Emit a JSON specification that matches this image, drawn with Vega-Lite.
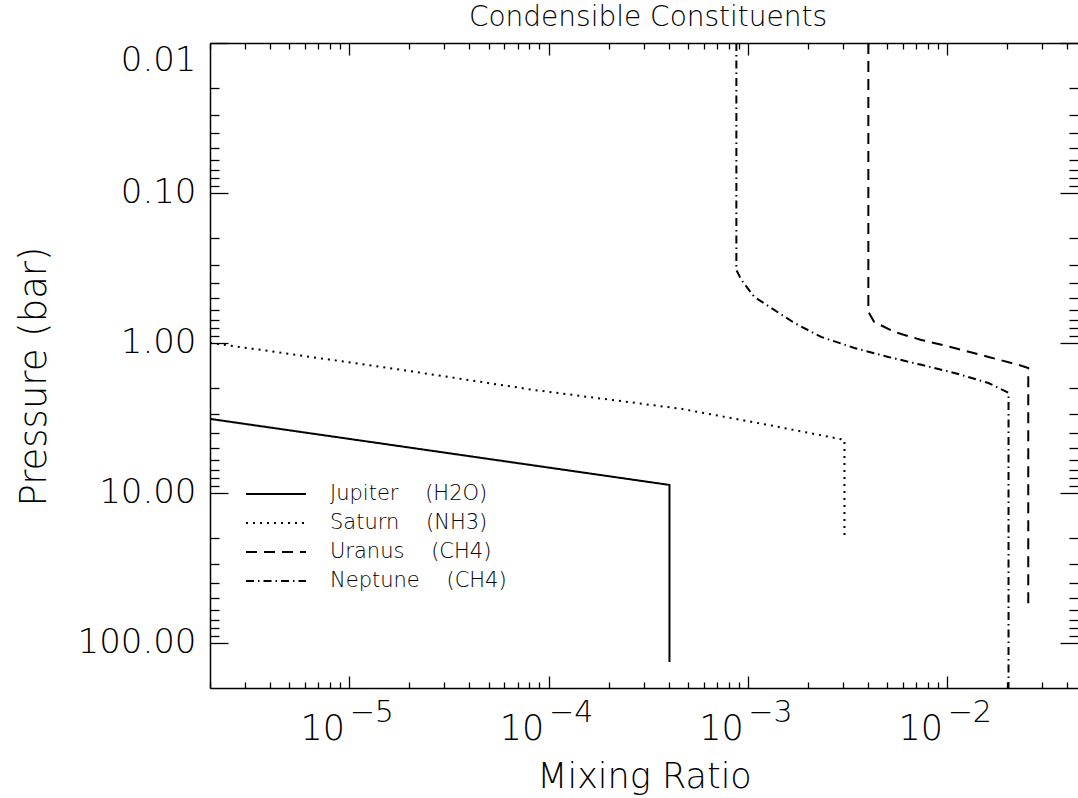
{
  "$schema": "https://vega.github.io/schema/vega-lite/v6.json",
  "width": 868,
  "height": 645,
  "autosize": {"type": "none"},
  "padding": {"left": 210, "top": 43, "right": 0, "bottom": 110},
  "background": "white",
  "title": {"text": "Condensible Constituents", "fontSize": 28, "fontWeight": 200, "font": "DejaVu Sans", "color": "black", "anchor": "middle", "dx": 4, "offset": 8},
  "config": {
    "font": "DejaVu Sans",
    "view": {"stroke": null},
    "axis": {"grid": false, "domainColor": "black", "domainWidth": 1.5, "tickColor": "black", "tickWidth": 1.3, "labelColor": "black", "titleColor": "black", "labelFont": "DejaVu Sans", "titleFont": "DejaVu Sans", "labelFontWeight": 200, "titleFontWeight": 200},
    "legend": {"labelFont": "DejaVu Sans", "labelFontWeight": 200, "labelColor": "black"}
  },
  "data": {"values": [
    {"s": "Jupiter (H2O)", "i": 0, "x": 2e-6, "p": 3.21},
    {"s": "Jupiter (H2O)", "i": 1, "x": 4.04e-4, "p": 8.85},
    {"s": "Jupiter (H2O)", "i": 2, "x": 4.04e-4, "p": 134},
    {"s": "Saturn (NH3)", "i": 0, "x": 2e-6, "p": 1.0},
    {"s": "Saturn (NH3)", "i": 1, "x": 3.92e-6, "p": 1.13},
    {"s": "Saturn (NH3)", "i": 2, "x": 1.82e-5, "p": 1.51},
    {"s": "Saturn (NH3)", "i": 3, "x": 8.47e-5, "p": 2.06},
    {"s": "Saturn (NH3)", "i": 4, "x": 4.63e-4, "p": 2.75},
    {"s": "Saturn (NH3)", "i": 5, "x": 1.26e-3, "p": 3.52},
    {"s": "Saturn (NH3)", "i": 6, "x": 3.05e-3, "p": 4.43},
    {"s": "Saturn (NH3)", "i": 7, "x": 3.05e-3, "p": 19.1},
    {"s": "Uranus (CH4)", "i": 0, "x": 4.02e-3, "p": 0.01},
    {"s": "Uranus (CH4)", "i": 1, "x": 4.02e-3, "p": 0.621},
    {"s": "Uranus (CH4)", "i": 2, "x": 4.30e-3, "p": 0.724},
    {"s": "Uranus (CH4)", "i": 3, "x": 5.43e-3, "p": 0.845},
    {"s": "Uranus (CH4)", "i": 4, "x": 7.41e-3, "p": 0.955},
    {"s": "Uranus (CH4)", "i": 5, "x": 1.087e-2, "p": 1.08},
    {"s": "Uranus (CH4)", "i": 6, "x": 1.61e-2, "p": 1.24},
    {"s": "Uranus (CH4)", "i": 7, "x": 2.28e-2, "p": 1.40},
    {"s": "Uranus (CH4)", "i": 8, "x": 2.55e-2, "p": 1.47},
    {"s": "Uranus (CH4)", "i": 9, "x": 2.55e-2, "p": 55.8},
    {"s": "Neptune (CH4)", "i": 0, "x": 8.75e-4, "p": 0.01},
    {"s": "Neptune (CH4)", "i": 1, "x": 8.75e-4, "p": 0.326},
    {"s": "Neptune (CH4)", "i": 2, "x": 9.27e-4, "p": 0.380},
    {"s": "Neptune (CH4)", "i": 3, "x": 1.076e-3, "p": 0.493},
    {"s": "Neptune (CH4)", "i": 4, "x": 1.31e-3, "p": 0.585},
    {"s": "Neptune (CH4)", "i": 5, "x": 1.71e-3, "p": 0.736},
    {"s": "Neptune (CH4)", "i": 6, "x": 2.33e-3, "p": 0.912},
    {"s": "Neptune (CH4)", "i": 7, "x": 3.42e-3, "p": 1.08},
    {"s": "Neptune (CH4)", "i": 8, "x": 5.06e-3, "p": 1.24},
    {"s": "Neptune (CH4)", "i": 9, "x": 7.41e-3, "p": 1.40},
    {"s": "Neptune (CH4)", "i": 10, "x": 1.087e-2, "p": 1.585},
    {"s": "Neptune (CH4)", "i": 11, "x": 1.61e-2, "p": 1.85},
    {"s": "Neptune (CH4)", "i": 12, "x": 2.03e-2, "p": 2.15},
    {"s": "Neptune (CH4)", "i": 13, "x": 2.03e-2, "p": 200}
  ]},
  "layer": [
    {
      "mark": {"type": "line", "color": "black", "strokeWidth": 2, "clip": true},
      "encoding": {
        "x": {"field": "x", "type": "quantitative", "scale": {"type": "log", "domain": [2e-6, 0.0453], "nice": false},
          "axis": {"orient": "bottom", "values": [1e-5, 1e-4, 1e-3, 1e-2], "labelExpr": "'10'", "labelFontSize": 35, "labelOffset": -27, "labelPadding": 35, "tickSize": -12, "title": "Mixing Ratio", "titleFontSize": 35, "titlePadding": 13}},
        "y": {"field": "p", "type": "quantitative", "scale": {"type": "log", "domain": [0.01, 200], "nice": false, "reverse": true},
          "axis": {"orient": "left", "values": [0.01, 0.1, 1, 10, 100], "format": ".2f", "labelFontSize": 34, "labelFlush": true, "labelPadding": 32, "tickSize": -18, "title": "Pressure (bar)", "titleFontSize": 37, "titlePadding": 24, "titleY": 333}},
        "order": {"field": "i", "type": "quantitative"},
        "strokeDash": {"field": "s", "type": "nominal",
          "scale": {"domain": ["Jupiter (H2O)", "Saturn (NH3)", "Uranus (CH4)", "Neptune (CH4)"], "range": [[1, 0], [2, 5], [11, 7], [8, 4, 1.5, 4]]},
          "legend": {"orient": "none", "legendX": 55, "legendY": 440, "title": null, "symbolType": "M-3,0H3", "symbolSize": 400, "symbolStrokeColor": "black", "symbolStrokeWidth": 2, "labelFontSize": 21, "labelLimit": 400, "labelOffset": 43, "rowPadding": 8, "padding": 0,
            "labelExpr": "replace(datum.label, ' ', '\u00a0\u00a0\u00a0\u00a0')"}}
      }
    },
    {
      "mark": {"type": "point", "opacity": 0},
      "encoding": {
        "x": {"field": "x", "type": "quantitative", "scale": {"type": "log", "domain": [2e-6, 0.0453], "nice": false},
          "axis": {"orient": "bottom", "values": [2e-6,3e-6,4e-6,5e-6,6e-6,7e-6,8e-6,9e-6,2e-5,3e-5,4e-5,5e-5,6e-5,7e-5,8e-5,9e-5,2e-4,3e-4,4e-4,5e-4,6e-4,7e-4,8e-4,9e-4,2e-3,3e-3,4e-3,5e-3,6e-3,7e-3,8e-3,9e-3,2e-2,3e-2,4e-2], "labels": false, "domain": false, "tickSize": -6, "title": null}},
        "y": {"field": "p", "type": "quantitative", "scale": {"type": "log", "domain": [0.01, 200], "nice": false, "reverse": true},
          "axis": {"orient": "left", "values": [0.02,0.03,0.04,0.05,0.06,0.07,0.08,0.09,0.2,0.3,0.4,0.5,0.6,0.7,0.8,0.9,2,3,4,5,6,7,8,9,20,30,40,50,60,70,80,90], "labels": false, "domain": false, "tickSize": -9, "title": null}}
      }
    },
    {
      "mark": {"type": "point", "opacity": 0},
      "encoding": {
        "x": {"field": "x", "type": "quantitative", "scale": {"type": "log", "domain": [2e-6, 0.0453], "nice": false},
          "axis": {"orient": "top", "values": [1e-5, 1e-4, 1e-3, 1e-2], "labels": false, "tickSize": -12, "title": null}},
        "y": {"field": "p", "type": "quantitative", "scale": {"type": "log", "domain": [0.01, 200], "nice": false, "reverse": true},
          "axis": {"orient": "right", "values": [0.01, 0.1, 1, 10, 100], "labels": false, "domain": false, "tickSize": -18, "title": null}}
      }
    },
    {
      "mark": {"type": "point", "opacity": 0},
      "encoding": {
        "x": {"field": "x", "type": "quantitative", "scale": {"type": "log", "domain": [2e-6, 0.0453], "nice": false},
          "axis": {"orient": "top", "values": [2e-6,3e-6,4e-6,5e-6,6e-6,7e-6,8e-6,9e-6,2e-5,3e-5,4e-5,5e-5,6e-5,7e-5,8e-5,9e-5,2e-4,3e-4,4e-4,5e-4,6e-4,7e-4,8e-4,9e-4,2e-3,3e-3,4e-3,5e-3,6e-3,7e-3,8e-3,9e-3,2e-2,3e-2,4e-2], "labels": false, "domain": false, "tickSize": -6, "title": null}},
        "y": {"field": "p", "type": "quantitative", "scale": {"type": "log", "domain": [0.01, 200], "nice": false, "reverse": true},
          "axis": {"orient": "right", "values": [0.02,0.03,0.04,0.05,0.06,0.07,0.08,0.09,0.2,0.3,0.4,0.5,0.6,0.7,0.8,0.9,2,3,4,5,6,7,8,9,20,30,40,50,60,70,80,90], "labels": false, "domain": false, "tickSize": -9, "title": null}}
      }
    },
    {
      "mark": {"type": "point", "opacity": 0},
      "encoding": {
        "x": {"field": "x", "type": "quantitative", "scale": {"type": "log", "domain": [2e-6, 0.0453], "nice": false},
          "axis": {"orient": "bottom", "values": [1e-5, 1e-4, 1e-3, 1e-2], "labelExpr": "'−' + round(-log(datum.value)/LN10)", "labelFontSize": 30, "labelOffset": 22, "labelPadding": 9, "ticks": false, "domain": false, "title": null}}
      }
    }
  ],
  "resolve": {"axis": {"x": "independent", "y": "independent"}}
}
